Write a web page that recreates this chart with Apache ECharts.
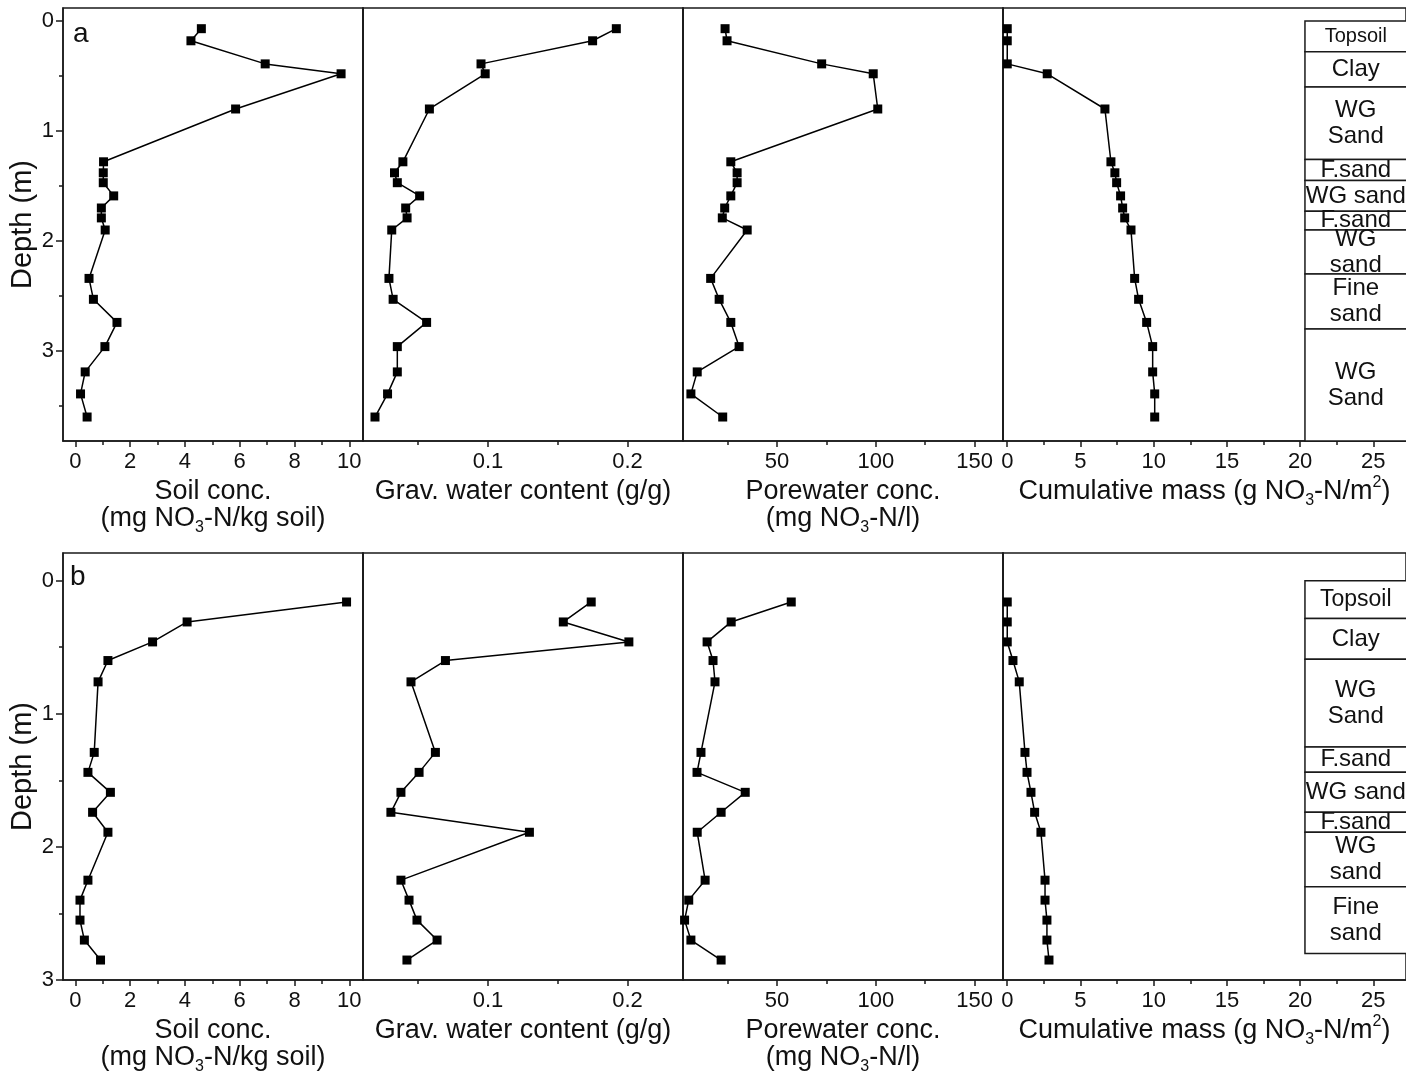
<!DOCTYPE html>
<html>
<head>
<meta charset="utf-8">
<script src="https://cdn.jsdelivr.net/npm/echarts@6/dist/echarts.min.js"></script>
<style>
html,body{margin:0;padding:0;background:#fff;}
#chart{width:1406px;height:1081px;}
</style>
</head>
<body>
<div id="chart"></div>
<script>
// ---------- data ----------
const depthA = [0.07,0.18,0.39,0.48,0.80,1.28,1.38,1.47,1.59,1.70,1.79,1.90,2.34,2.53,2.74,2.96,3.19,3.39,3.60];
const soilA  = [4.6,4.22,6.93,9.7,5.85,1.03,1.02,1.02,1.40,0.95,0.95,1.09,0.50,0.66,1.52,1.08,0.36,0.19,0.43];
const waterA = [0.192,0.175,0.095,0.098,0.058,0.039,0.033,0.035,0.051,0.041,0.042,0.031,0.029,0.032,0.056,0.035,0.035,0.028,0.019];
const poreA  = [23.7,24.7,72.6,98.7,101.0,26.6,29.8,29.8,26.6,23.5,22.3,34.9,16.4,20.7,26.6,30.8,9.6,6.4,22.5];
const cumA   = [0,0,0,2.73,6.67,7.08,7.35,7.47,7.74,7.88,8.02,8.45,8.70,8.97,9.52,9.93,9.93,10.07,10.07];

const depthB = [0.16,0.31,0.46,0.60,0.76,1.29,1.44,1.59,1.74,1.89,2.25,2.40,2.55,2.70,2.85];
const soilB  = [9.9,4.08,2.82,1.19,0.83,0.69,0.46,1.28,0.63,1.19,0.46,0.17,0.17,0.33,0.92];
const waterB = [0.174,0.154,0.201,0.0695,0.0448,0.0623,0.0506,0.0376,0.0304,0.1297,0.0376,0.0434,0.0491,0.0635,0.0419];
const poreB  = [57.2,26.8,14.6,17.6,18.6,11.5,9.5,33.9,21.7,9.6,13.6,5.3,3.2,6.4,21.7];
const cumB   = [0,0,0,0.39,0.82,1.21,1.35,1.62,1.87,2.30,2.58,2.58,2.71,2.71,2.85];

const layerBoundsA = [0,0.28,0.6,1.26,1.45,1.73,1.9,2.3,2.8,3.818];
const layerNamesA  = ['Topsoil','Clay','WG\nSand','F.sand','WG sand','F.sand','WG\nsand','Fine\nsand','WG\nSand'];
const layerBoundsB = [0,0.285,0.59,1.25,1.44,1.74,1.89,2.3,2.8];
const layerNamesB  = ['Topsoil','Clay','WG\nSand','F.sand','WG sand','F.sand','WG\nsand','Fine\nsand'];

const soilTicks  = [0,2,4,6,8,10];
const soilMinor  = [0,1,2,3,4,5,6,7,8,9,10];
const waterTicks = [0.1,0.2];
const waterMinor = [0.05,0.1,0.15,0.2];
const poreTicks  = [50,100,150];
const poreMinor  = [25,50,75,100,125,150];
const cumTicks   = [0,5,10,15,20,25];
const cumMinor   = [0,2.5,5,7.5,10,12.5,15,17.5,20,22.5,25];
const depthTicksA = [0,1,2,3];
const depthMinorA = [0,0.5,1,1.5,2,2.5,3,3.5];
const depthTicksB = [0,1,2,3];
const depthMinorB = [0,0.5,1,1.5,2,2.5];

// ---------- layout ----------
const FONT = '"Liberation Sans", Arial, sans-serif';
const AX = '#1a1a1a';
const panelsX = [
  {left:63,  width:300, min:-0.45,  max:10.5,  major:soilTicks,  minor:soilMinor},
  {left:363, width:320, min:0.0104, max:0.2398, major:waterTicks, minor:waterMinor},
  {left:683, width:320, min:2.4,    max:164.4, major:poreTicks,  minor:poreMinor},
  {left:1003,width:403, min:-0.29,  max:27.23, major:cumTicks,   minor:cumMinor}
];
const rows = [
  {top:8,   height:433, min:-0.118, max:3.818, major:depthTicksA, minor:depthMinorA},
  {top:553, height:427, min:-0.208, max:3.0,   major:depthTicksB, minor:depthMinorB}
];
const names = [
  '{t|Soil conc.}\n{t|(mg NO}{b|3}{t|-N/kg soil)}',
  '{t|Grav. water content (g/g)}',
  '{t|Porewater conc.}\n{t|(mg NO}{b|3}{t|-N/l)}',
  '{t|Cumulative mass (g NO}{b|3}{t|-N/m}{p|2}{t|)}'
];
const rich = {
  t:{fontFamily:FONT,fontSize:27,lineHeight:27,padding:[3,0,0,0],verticalAlign:'top',color:'#111'},
  b:{fontFamily:FONT,fontSize:16,lineHeight:16,padding:[18,0,0,0],verticalAlign:'top',color:'#111'},
  p:{fontFamily:FONT,fontSize:16,lineHeight:16,padding:[0,0,0,0],verticalAlign:'top',color:'#111'}
};

const grids=[], xAxes=[], yAxes=[], series=[];
rows.forEach((r,ri)=>{
  panelsX.forEach((p,pi)=>{
    const g = ri*4+pi;
    grids.push({left:p.left, top:r.top, width:p.width, height:r.height, containLabel:false,
      outerBoundsMode:'none', show:true, borderColor:AX, borderWidth:1.5, backgroundColor:'transparent'});
    xAxes.push({type:'value', gridIndex:g, min:p.min, max:p.max, position:'bottom',
      axisLine:{show:true,onZero:false,lineStyle:{color:AX,width:1.5}},
      axisTick:{show:true,customValues:p.major,length:6,inside:false,lineStyle:{color:AX,width:1.5}},
      axisLabel:{show:true,customValues:p.major,margin:10,fontSize:22,fontFamily:FONT,color:'#111',hideOverlap:false},
      splitLine:{show:false},
      name:names[pi], nameLocation:'middle', nameGap:34,
      nameTextStyle:{rich:rich}
    });
    xAxes.push({type:'value', gridIndex:g, min:p.min, max:p.max, position:'bottom',
      axisLine:{show:false,onZero:false},
      axisTick:{show:true,customValues:p.minor,length:4,inside:false,lineStyle:{color:AX,width:1.5}},
      axisLabel:{show:false}, splitLine:{show:false}
    });
    const first = pi===0;
    yAxes.push({type:'value', gridIndex:g, inverse:true, min:r.min, max:r.max, position:'left',
      axisLine:{show:true,onZero:false,lineStyle:{color:AX,width:1.5}},
      axisTick:{show:first,customValues:r.major,length:7,lineStyle:{color:AX,width:1.5}},
      axisLabel:{show:first,customValues:r.major,margin:9,fontSize:22,fontFamily:FONT,color:'#111'},
      splitLine:{show:false},
      name: first ? 'Depth (m)' : '', nameLocation:'middle', nameRotate:90, nameGap:22,
      nameTextStyle:{fontFamily:FONT,fontSize:29,color:'#111'}
    });
  });
});
rows.forEach((r,ri)=>{
  yAxes.push({type:'value', gridIndex:ri*4, inverse:true, min:r.min, max:r.max, position:'left',
    axisLine:{show:false,onZero:false},
    axisTick:{show:true,customValues:r.minor,length:4,lineStyle:{color:AX,width:1.5}},
    axisLabel:{show:false}, splitLine:{show:false}});
});

function lineSeries(g, xs, ds){
  return {type:'line', xAxisIndex:g*2, yAxisIndex:g,
    data: xs.map((v,i)=>[v, ds[i]]),
    symbol:'rect', symbolSize:9, showSymbol:true, clip:false,
    itemStyle:{color:'#000'}, lineStyle:{color:'#000',width:1.5},
    animation:false, silent:true};
}
const setsA=[soilA,waterA,poreA,cumA], setsB=[soilB,waterB,poreB,cumB];
setsA.forEach((s,i)=>series.push(lineSeries(i,s,depthA)));
setsB.forEach((s,i)=>series.push(lineSeries(4+i,s,depthB)));

// stratigraphy column on the cumulative-mass grids
const COL_X0 = 20.33, COL_X1 = 28.5, COL_XC = 23.8;
function stratSeries(g, bounds, labels, topsoilSize){
  const data = [];
  for(let i=0;i<labels.length;i++) data.push([bounds[i], bounds[i+1]]);
  return {type:'custom', xAxisIndex:g*2, yAxisIndex:g, clip:false, silent:true, animation:false,
    dimensions:['d0','d1'], encode:{y:[0,1]},
    data:data,
    renderItem:function(params, api){
      const i = params.dataIndex;
      const a = api.coord([COL_X0, api.value(0)]);
      const b = api.coord([COL_X1, api.value(1)]);
      const c = api.coord([COL_XC, 0]);
      const fs = labels[i]==='Topsoil' ? topsoilSize : 24;
      return {type:'group', children:[
        {type:'rect', shape:{x:a[0], y:a[1], width:b[0]-a[0], height:b[1]-a[1]},
          style:{fill:'#fff', stroke:AX, lineWidth:1.5}},
        {type:'text', style:{text:labels[i], x:c[0], y:(a[1]+b[1])/2,
          align:'center', verticalAlign:'middle', textAlign:'center', textVerticalAlign:'middle',
          fontSize:fs, fontFamily:FONT, lineHeight:26, fill:'#111'}}
      ]};
    }};
}
series.push(stratSeries(3, layerBoundsA, layerNamesA, 20));
series.push(stratSeries(7, layerBoundsB, layerNamesB, 23));

const chart = echarts.init(document.getElementById('chart'), null, {renderer:'canvas'});
chart.setOption({
  backgroundColor:'#fff',
  animation:false,
  grid:grids, xAxis:xAxes, yAxis:yAxes, series:series,
  graphic:[
    {type:'text', left:73, top:20, style:{text:'a', fontSize:28, fontFamily:FONT, fill:'#111'}},
    {type:'text', left:70, top:563, style:{text:'b', fontSize:28, fontFamily:FONT, fill:'#111'}}
  ]
});
</script>
</body>
</html>
